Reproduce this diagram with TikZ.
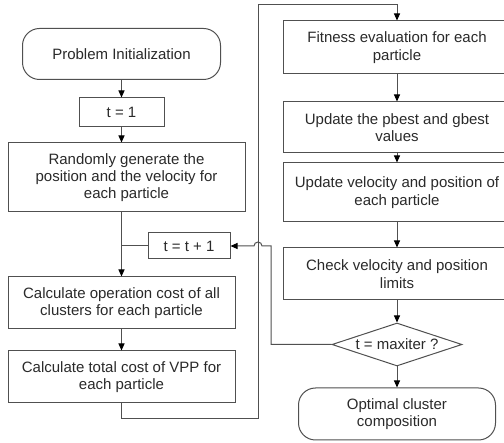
\documentclass[tikz,border=0pt]{standalone}
\usepackage{fontspec}
\setmainfont{Liberation Sans}
\usepackage{tikz}
\usetikzlibrary{arrows.meta,calc,positioning,shapes.geometric}
\definecolor{Edge}{HTML}{505050}
\definecolor{Ink}{HTML}{2A2A2A}

\begin{document}
\begin{tikzpicture}[x=1pt,y=-1pt,
        box/.style={draw=Edge,line width=1pt,fill=white,align=center,inner sep=0pt,
          text=Ink,font=\fontsize{15}{17.3}\selectfont},
        term/.style={box,rounded corners=17pt},
        test/.style={box,diamond,aspect=3,inner sep=0pt},
        flow/.style={draw=Edge,line width=1pt,-{Triangle[length=7pt,width=6pt,black]}},
        wire/.style={draw=Edge,line width=1pt}]
        \clip (0,0) rectangle (504,443);
        % left column
        \node[term,minimum width=198pt,minimum height=51pt] (init) at (121.5,54) {Problem Initialization};
        \node[box,minimum width=85pt,minimum height=29pt] (tone) at (121.5,112.5) {t = 1};
        \node[box,minimum width=237pt,minimum height=69pt] (rand) at (126.5,177.5) {Randomly generate the\\position and the velocity for\\each particle};
        \node[box,minimum width=82pt,minimum height=26pt] (tinc) at (189,246) {t = t + 1};
        \node[box,minimum width=227pt,minimum height=52pt] (cost) at (121.5,303) {Calculate operation cost of all\\clusters for each particle};
        \node[box,minimum width=227pt,minimum height=52pt] (vpp) at (121.5,377) {Calculate total cost of VPP for\\each particle};
        % right column
        \node[box,minimum width=228pt,minimum height=53pt] (fit) at (397,47.5) {Fitness evaluation for each\\particle};
        \node[box,minimum width=228pt,minimum height=51pt] (best) at (397,127.5) {Update the pbest and gbest\\values};
        \node[box,minimum width=228pt,minimum height=59pt] (move) at (397,192.5) {Update velocity and position of\\each particle};
        \node[box,minimum width=228pt,minimum height=52pt] (lim) at (397,274) {Check velocity and position\\limits};
        \node[test,minimum width=130pt,minimum height=43pt] (stop) at (397,344.5) {t = maxiter ?};
        \node[term,minimum width=197pt,minimum height=52pt] (opt) at (397,414) {Optimal cluster\\composition};
        % connectors
        \coordinate (loopa) at (121.5,419);
        \coordinate (loopb) at (258,419);
        \coordinate (loopc) at (258,5);
        \coordinate (back) at (271,246);
        \draw[flow] (init) -- (tone);
        \draw[flow] (tone) -- (tone |- rand.north);
        \draw[flow] (tone |- rand.south) -- (cost);
        \draw[wire] (tinc.west) -- (tinc.west -| cost);
        \draw[flow] (cost) -- (vpp);
        \draw[flow] (vpp.south) -- (loopa) -- (loopb) -- (loopc) -- (loopc -| fit) -- (fit.north);
        \draw[flow] (fit) -- (best);
        \draw[flow] (best) -- (move);
        \draw[flow] (move) -- (lim);
        \draw[flow] (lim) -- (stop);
        \draw[flow] (stop) -- (opt);
        \draw[flow] (stop.west) -- (stop.west -| back) -- (back) -- ($(back)+(-9,0)$)
          arc[start angle=0,end angle=-180,radius=4] -- (tinc.east);
\end{tikzpicture}
\end{document}
